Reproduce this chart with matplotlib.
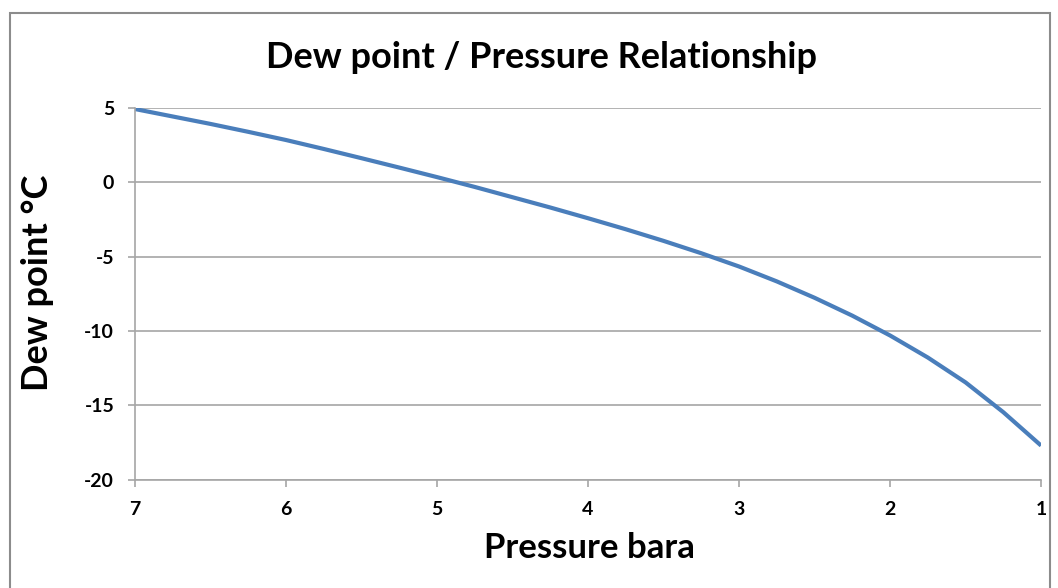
import matplotlib.pyplot as plt
from matplotlib.patches import Rectangle

# Pressure (bara) vs dew point (degC)
pressure = [7, 6.75, 6.5, 6.25, 6, 5.75, 5.5, 5.25, 5, 4.75, 4.5, 4.25, 4,
            3.75, 3.5, 3.25, 3, 2.75, 2.5, 2.25, 2, 1.75, 1.5, 1.25, 1]
dew_point = [4.9, 4.4, 3.9, 3.37, 2.82, 2.22, 1.6, 0.97, 0.33, -0.33, -1.02, -1.71, -2.43,
             -3.17, -3.95, -4.78, -5.67, -6.67, -7.77, -8.97, -10.3, -11.78, -13.45, -15.45, -17.69]

y_ticks = [5, 0, -5, -10, -15, -20]
x_ticks = [7, 6, 5, 4, 3, 2, 1]

plt.rcParams['font.family'] = ['Lato', 'DejaVu Sans']
plt.rcParams['axes.unicode_minus'] = False

fig = plt.figure(figsize=(10.58, 5.88), dpi=100)
ax = fig.add_axes([0.1276, 0.1837, 0.8564, 0.6334])

ax.plot(pressure, dew_point, color='#4a7ebb', lw=3, solid_capstyle='butt',
        solid_joinstyle='round')

ax.set_xlim(7, 1)
ax.set_ylim(-20, 5)
ax.set_xticks(x_ticks)
ax.set_yticks(y_ticks)
ax.grid(axis='y', color='#a6a6a6', lw=1.2)
ax.set_axisbelow(True)

for s in ['top', 'right']:
    ax.spines[s].set_visible(False)
for s in ['left', 'bottom']:
    ax.spines[s].set_color('#a6a6a6')
    ax.spines[s].set_linewidth(1.2)
ax.tick_params(axis='both', colors='#a6a6a6', width=1.2, length=5,
               labelcolor='black', labelsize=14)
ax.tick_params(axis='y', pad=10)
ax.tick_params(axis='x', pad=10)
for lbl in ax.get_xticklabels() + ax.get_yticklabels():
    lbl.set_fontweight('bold')

ax.set_xlabel('Pressure bara', fontsize=25, fontweight='bold', va='center')
ax.xaxis.set_label_coords(0.501, -0.1826)
ax.set_ylabel('Dew point °C', fontsize=26, fontweight='bold', va='center')
ax.yaxis.set_label_coords(-0.108, 0.529)
fig.text(0.512, 0.903, 'Dew point / Pressure Relationship', ha='center', va='center',
         fontsize=26, fontweight='bold')

# chart area border
fig.patches.append(Rectangle((10 / 1058, -0.05), 1040 / 1058, 1.05 - 13 / 588,
                             transform=fig.transFigure, fill=False,
                             edgecolor='#8c8c8c', lw=1.5))

fig.savefig('out.png', dpi=100)
